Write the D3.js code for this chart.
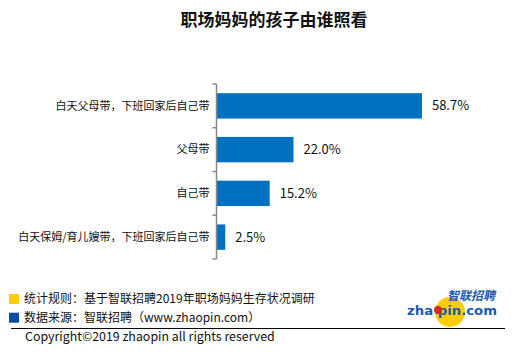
<!DOCTYPE html>
<html>
<head>
<meta charset="utf-8">
<script src="https://cdn.jsdelivr.net/npm/d3@7"></script>
<style>
  body { margin: 0; background: #fff; }
  svg { display: block; font-family: "Noto Sans CJK SC", "Noto Sans", sans-serif; }
</style>
</head>
<body>
<div id="chart"></div>
<script>
const categories = [
  "白天父母带，下班回家后自己带",
  "父母带",
  "自己带",
  "白天保姆/育儿嫂带，下班回家后自己带",
];
const values = [58.7, 22.0, 15.2, 2.5];
const title = "职场妈妈的孩子由谁照看";
const notes = [
  "统计规则：基于智联招聘2019年职场妈妈生存状况调研",
  "数据来源：智联招聘（www.zhaopin.com）",
];
const noteColors = ["#ffcc00", "#0a4ea2"];
const copyright = "Copyright©2019 zhaopin all rights reserved";

const width = 514;
const height = 354;
const margin = { top: 84, left: 216.5, bottom: 95 };

const svg = d3
  .select("#chart")
  .append("svg")
  .attr("width", width)
  .attr("height", height);

svg
  .append("text")
  .attr("x", 274)
  .attr("y", 26)
  .attr("text-anchor", "middle")
  .attr("font-size", 17)
  .attr("font-weight", "bold")
  .attr("fill", "#111")
  .text(title);

const x = d3.scaleLinear().domain([0, 60]).range([0, 210]);

const y = d3
  .scaleBand()
  .domain(categories)
  .range([margin.top, height - margin.bottom])
  .paddingInner(0.42)
  .paddingOuter(0.21);

const g = svg.append("g").attr("transform", `translate(${margin.left},0)`);

g.selectAll(".bar")
  .data(values)
  .join("rect")
  .attr("class", "bar")
  .attr("x", 0)
  .attr("y", (d, i) => y(categories[i]))
  .attr("width", (d) => x(d))
  .attr("height", y.bandwidth())
  .attr("fill", "#0070c0");

g.selectAll(".value")
  .data(values)
  .join("text")
  .attr("class", "value")
  .attr("x", (d) => x(d) + 10)
  .attr("y", (d, i) => y(categories[i]) + y.bandwidth() / 2)
  .attr("dy", "0.35em")
  .attr("font-size", 13)
  .attr("fill", "#111")
  .text((d) => d.toFixed(1) + "%");

// category axis with boundary ticks
const axisG = g.append("g").attr("stroke", "#888").attr("stroke-width", 1.5);
axisG
  .append("line")
  .attr("x1", 0)
  .attr("x2", 0)
  .attr("y1", margin.top)
  .attr("y2", height - margin.bottom);

const bounds = categories.map((c) => y(c) - (y.step() * y.paddingInner()) / 2);
bounds[0] = margin.top;
bounds.push(height - margin.bottom);
axisG
  .selectAll(".tick")
  .data(bounds)
  .join("line")
  .attr("class", "tick")
  .attr("x1", -4)
  .attr("x2", 0)
  .attr("y1", (d) => d)
  .attr("y2", (d) => d);

g.selectAll(".cat")
  .data(categories)
  .join("text")
  .attr("class", "cat")
  .attr("x", -7)
  .attr("y", (d) => y(d) + y.bandwidth() / 2)
  .attr("dy", "0.35em")
  .attr("text-anchor", "end")
  .attr("font-size", 11)
  .attr("fill", "#111")
  .text((d) => d);

// footer
const foot = svg.append("g");
foot
  .selectAll("rect")
  .data(notes)
  .join("rect")
  .attr("x", 9)
  .attr("y", (d, i) => 294 + i * 18.7)
  .attr("width", 10)
  .attr("height", 10)
  .attr("fill", (d, i) => noteColors[i]);

foot
  .selectAll(".note")
  .data(notes)
  .join("text")
  .attr("class", "note")
  .attr("x", 24)
  .attr("y", (d, i) => 299 + i * 18.7)
  .attr("dy", "0.35em")
  .attr("font-size", 12)
  .attr("fill", "#111")
  .text((d) => d);

foot
  .append("line")
  .attr("x1", 11)
  .attr("x2", 505)
  .attr("y1", 328.5)
  .attr("y2", 328.5)
  .attr("stroke", "#000")
  .attr("stroke-width", 1);

foot
  .append("text")
  .attr("x", 25)
  .attr("y", 341)
  .attr("font-size", 12.4)
  .attr("fill", "#111")
  .text(copyright);

// logo
const logo = svg.append("g");
logo
  .append("circle")
  .attr("cx", 450)
  .attr("cy", 312)
  .attr("r", 15)
  .attr("fill", "#ffcc00");
logo
  .append("text")
  .attr("x", 471)
  .attr("y", 300)
  .attr("text-anchor", "middle")
  .attr("font-size", 12)
  .attr("font-weight", "bold")
  .attr("font-style", "italic")
  .attr("fill", "#1a5cb0")
  .text("智联招聘");
logo
  .append("text")
  .attr("x", 407)
  .attr("y", 315)
  .attr("font-size", 13)
  .attr("font-weight", "bold")
  .attr("font-family", "DejaVu Sans")
  .attr("textLength", 90)
  .attr("lengthAdjust", "spacingAndGlyphs")
  .attr("fill", "#1a5cb0")
  .text("zha\u00a0pin.com");
logo
  .append("circle")
  .attr("cx", 438)
  .attr("cy", 310)
  .attr("r", 4)
  .attr("fill", "#d42a1e");
</script>
</body>
</html>
